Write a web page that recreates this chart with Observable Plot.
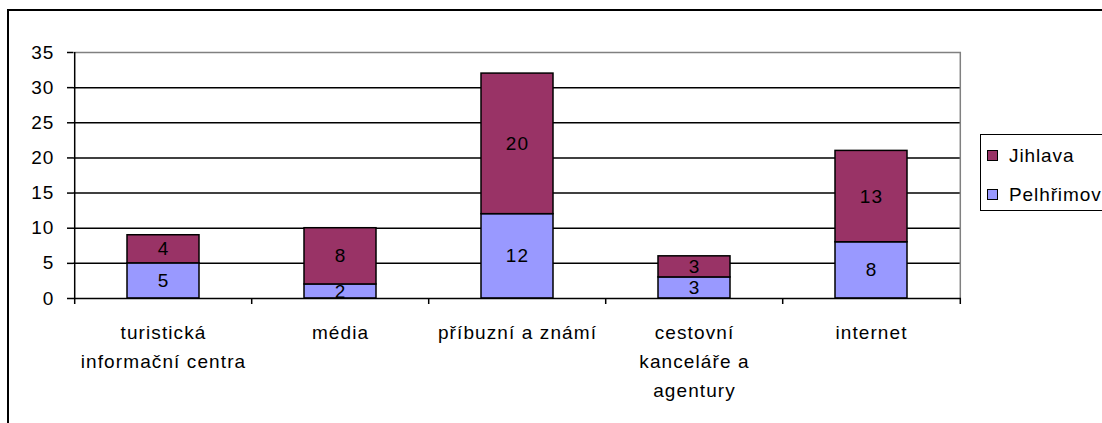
<!DOCTYPE html>
<html>
<head>
<meta charset="utf-8">
<script src="https://cdn.jsdelivr.net/npm/d3@7"></script>
<script src="https://cdn.jsdelivr.net/npm/@observablehq/plot@0.6"></script>
<style>
  body { margin: 0; background: #fff; }
  #wrap { position: relative; width: 1102px; height: 423px; overflow: hidden; font-family: "Liberation Sans", Arial, sans-serif; }
  #frame { position: absolute; left: 7px; top: 9px; width: 1300px; height: 600px; border: 2px solid #000; box-sizing: border-box; }
  #chart { position: absolute; left: 0; top: 0; }
  #chart svg text { letter-spacing: 1.1px; }
  #legend { position: absolute; left: 980px; top: 134px; width: 160px; height: 77px; border: 1.5px solid #000; box-sizing: border-box; background: #fff; }
  .item { position: absolute; left: 6px; font-size: 19px; letter-spacing: 0.9px; line-height: 20px; color: #000; white-space: nowrap; }
  .sw { display: inline-block; width: 9px; height: 9px; border: 1.5px solid #000; margin-right: 11px; vertical-align: 1px; }
</style>
</head>
<body>
<div id="wrap">
  <div id="frame"></div>
  <div id="chart"></div>
  <div id="legend"></div>
</div>
<script>
const categories = ["turistická informační centra", "média", "příbuzní a známí", "cestovní kanceláře a agentury", "internet"];
const tickLabels = ["turistická\ninformační centra", "média", "příbuzní a známí", "cestovní\nkanceláře a\nagentury", "internet"];
const seriesNames = ["Jihlava", "Pelhřimov"];
const jihlava = [4, 8, 20, 3, 13];
const pelhrimov = [5, 2, 12, 3, 8];
const yTicks = [0, 5, 10, 15, 20, 25, 30, 35];
const seriesColors = ["#993366", "#9999FF"];

// bottom segment (Pelhřimov) first so it stacks below Jihlava
const data = [];
categories.forEach((c, i) => {
  data.push({category: c, series: "Pelhřimov", value: pelhrimov[i]});
  data.push({category: c, series: "Jihlava", value: jihlava[i]});
});
const labelOf = new Map(categories.map((c, i) => [c, tickLabels[i]]));

const W = 1102, H = 423;
const mL = 73, mR = 141, mT = 52, mB = 125;
const step = (W - mL - mR) / categories.length;
const first = categories[0], last = categories[categories.length - 1];

const chart = Plot.plot({
  width: W,
  height: H,
  marginLeft: mL,
  marginRight: mR,
  marginTop: mT,
  marginBottom: mB,
  style: {fontFamily: "Liberation Sans, Arial, sans-serif", fontSize: "19px", background: "transparent", color: "#000"},
  x: {domain: categories, paddingInner: 0.595, paddingOuter: 0.2975, axis: null},
  y: {domain: [0, 35], axis: null},
  color: {domain: seriesNames, range: seriesColors},
  marks: [
    Plot.ruleY(yTicks.filter(t => t > 0 && t < 35), {stroke: "#000", strokeWidth: 1.5}),
    Plot.ruleY([35], {stroke: "#808080", strokeWidth: 1.5}),
    Plot.ruleX([last], {x: d => d, y1: 0, y2: 35, dx: step / 2, stroke: "#808080", strokeWidth: 1.5}),
    Plot.barY(data, Plot.stackY({x: "category", y: "value", fill: "series", stroke: "#000", strokeWidth: 1.5})),
    Plot.text(data, Plot.stackY({x: "category", y: "value", text: "value", fill: "#000", fontSize: 19, dy: 0})),
    Plot.ruleY([0], {stroke: "#000", strokeWidth: 1.5}),
    Plot.ruleX([first], {x: d => d, y1: 0, y2: 35, dx: -step / 2, stroke: "#000", strokeWidth: 1.5}),
    // category boundary tick marks below the axis
    Plot.ruleX(categories, {x: d => d, y1: 0, y2: 0, dx: -step / 2, insetBottom: -6, stroke: "#000", strokeWidth: 1.5}),
    Plot.ruleX([last], {x: d => d, y1: 0, y2: 0, dx: step / 2, insetBottom: -6, stroke: "#000", strokeWidth: 1.5}),
    Plot.axisY({ticks: yTicks, tickSize: 6, tickPadding: 13, fontSize: 19, strokeWidth: 1.5, label: null, tickFormat: d => String(d)}),
    Plot.axisX({tickSize: 0, tickPadding: 20, fontSize: 19, lineHeight: 29 / 19, label: null, tickFormat: d => labelOf.get(d)})
  ]
});
document.getElementById("chart").appendChild(chart);

const legend = document.getElementById("legend");
const legendOrder = ["Jihlava", "Pelhřimov"];
const legendTops = [11, 50];
legendOrder.forEach((name, i) => {
  const it = document.createElement("div");
  it.className = "item";
  it.style.top = legendTops[i] + "px";
  const sw = document.createElement("span");
  sw.className = "sw";
  sw.style.background = seriesColors[seriesNames.indexOf(name)];
  it.appendChild(sw);
  it.appendChild(document.createTextNode(name));
  legend.appendChild(it);
});
</script>
</body>
</html>
